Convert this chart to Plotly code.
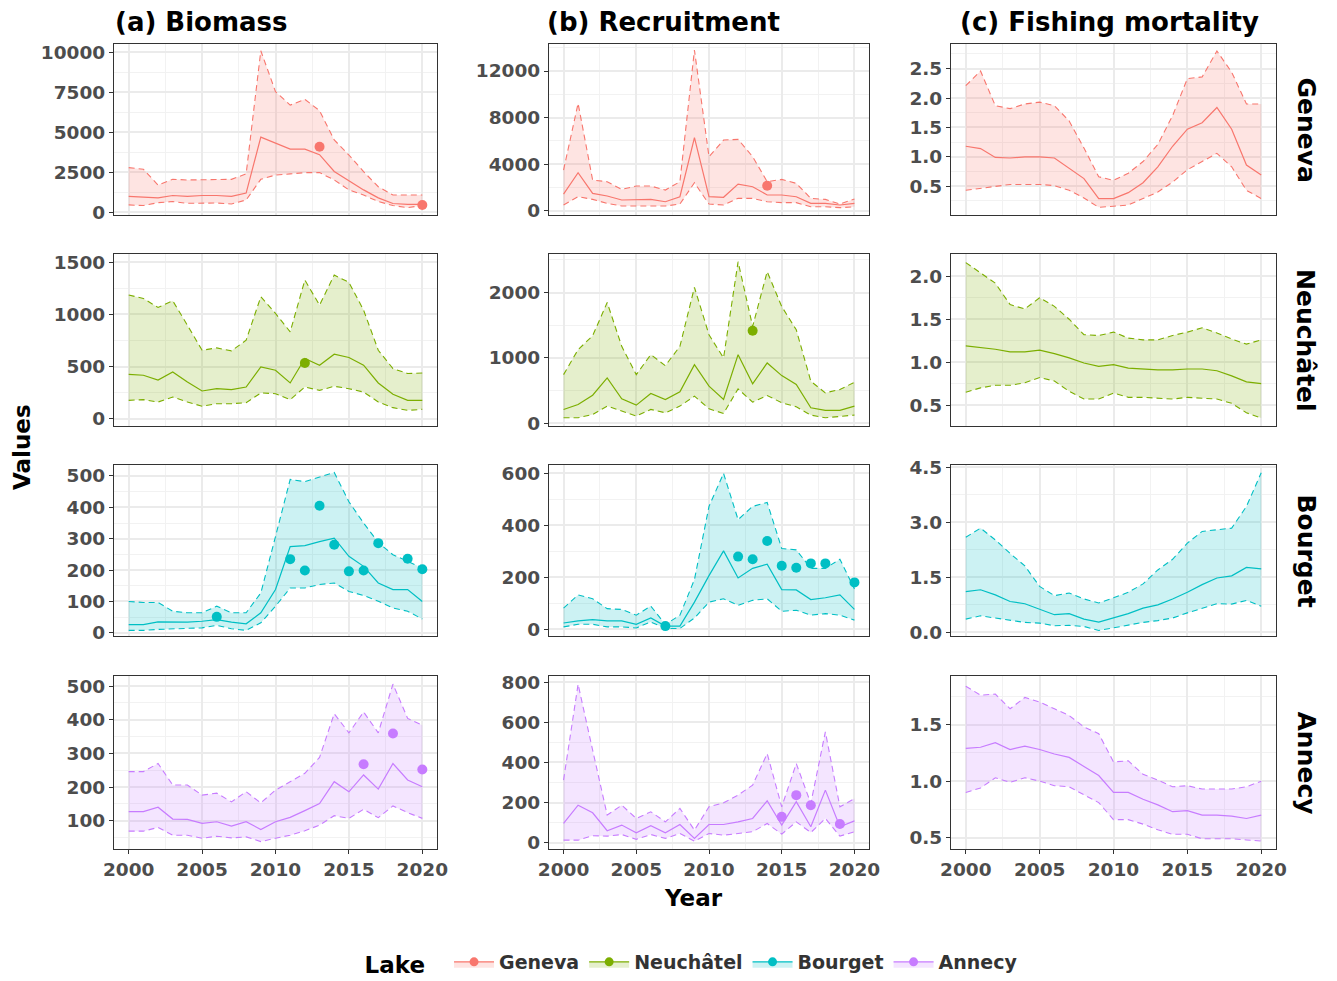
import plotly.graph_objects as go
from plotly.subplots import make_subplots

years = list(range(2000, 2021))
lakes = ["Geneva", "Neuchâtel", "Bourget", "Annecy"]
colors = ["#F8766D", "#7CAE00", "#00BFC4", "#C77CFF"]
fills = ["rgba(248,118,109,0.2)", "rgba(124,174,0,0.2)", "rgba(0,191,196,0.2)", "rgba(199,124,255,0.2)"]
col_titles = ["(a) Biomass", "(b) Recruitment", "(c) Fishing mortality"]

# ---------------- Biomass ----------------
geneva_bio_med = [1000, 950, 900, 1050, 1000, 1050, 1050, 1000, 1200, 4700, 4300, 3950, 3950, 3600, 2550, 1950, 1400, 900, 550, 500, 500]
geneva_bio_lo = [460, 420, 600, 670, 560, 580, 580, 520, 770, 2060, 2330, 2400, 2480, 2480, 2020, 1400, 1080, 670, 420, 290, 420]
geneva_bio_hi = [2790, 2690, 1700, 2060, 2020, 2020, 2060, 2060, 2400, 10100, 7540, 6700, 7060, 6350, 4520, 3580, 2540, 1600, 1080, 1080, 1080]
geneva_bio_obs_years = [2013, 2020]
geneva_bio_obs = [4100, 450]

neuch_bio_med = [426, 417, 370, 449, 353, 266, 288, 279, 304, 497, 465, 343, 577, 513, 619, 587, 513, 343, 234, 176, 176]
neuch_bio_lo = [176, 183, 160, 208, 160, 119, 144, 144, 154, 247, 240, 183, 304, 272, 311, 288, 256, 160, 106, 80, 90]
neuch_bio_hi = [1186, 1154, 1067, 1131, 897, 657, 679, 651, 753, 1170, 1010, 833, 1330, 1090, 1378, 1308, 1042, 657, 481, 433, 439]
neuch_bio_obs_years = [2012]
neuch_bio_obs = [535]

bourget_bio_med = [26, 26, 35, 34, 34, 37, 42, 34, 29, 64, 138, 275, 278, 291, 302, 244, 212, 159, 138, 138, 100]
bourget_bio_lo = [8, 8, 11, 13, 13, 16, 24, 13, 8, 32, 85, 143, 143, 154, 159, 132, 119, 101, 79, 69, 44]
bourget_bio_hi = [100, 97, 97, 69, 64, 64, 85, 64, 64, 127, 307, 489, 482, 496, 511, 418, 350, 288, 249, 228, 207]
bourget_bio_obs_years = [2006, 2011, 2012, 2013, 2014, 2015, 2016, 2017, 2019, 2020]
bourget_bio_obs = [51, 235, 199, 405, 281, 196, 199, 286, 236, 203]

annecy_bio_med = [127, 127, 140, 105, 104, 92, 97, 84, 97, 74, 97, 110, 130, 151, 216, 186, 236, 194, 270, 221, 201]
annecy_bio_lo = [69, 69, 80, 57, 57, 48, 54, 49, 52, 38, 48, 57, 70, 87, 115, 107, 134, 109, 144, 124, 107]
annecy_bio_hi = [246, 246, 270, 206, 206, 176, 182, 156, 186, 153, 191, 216, 241, 288, 418, 361, 423, 361, 506, 404, 384]
annecy_bio_obs_years = [2016, 2018, 2020]
annecy_bio_obs = [268, 359, 252]

# ---------------- Recruitment ----------------
geneva_rec_med = [1430, 3260, 1490, 1260, 920, 970, 970, 770, 1200, 6270, 1200, 1150, 2290, 2060, 1350, 1350, 1200, 630, 630, 490, 630]
geneva_rec_lo = [490, 1200, 970, 630, 400, 400, 400, 400, 570, 2400, 570, 490, 1060, 1060, 770, 690, 690, 340, 340, 260, 340]
geneva_rec_hi = [3490, 9220, 2630, 2490, 1830, 2120, 2120, 1770, 2490, 13800, 4640, 6070, 6130, 4640, 2490, 2690, 2350, 1060, 970, 570, 1000]
geneva_rec_obs_years = [2014]
geneva_rec_obs = [2150]

neuch_rec_med = [213, 289, 431, 695, 376, 279, 457, 365, 482, 898, 569, 365, 1051, 604, 924, 731, 594, 239, 198, 198, 264]
neuch_rec_lo = [86, 86, 137, 264, 188, 112, 213, 162, 264, 416, 223, 152, 528, 325, 426, 315, 254, 127, 86, 112, 127]
neuch_rec_hi = [746, 1127, 1340, 1848, 1178, 746, 1051, 883, 1178, 2081, 1355, 1000, 2472, 1482, 2320, 1787, 1431, 645, 467, 518, 629]
neuch_rec_obs_years = [2013]
neuch_rec_obs = [1416]

bourget_rec_med = [25, 33, 38, 33, 33, 20, 44, 13, 13, 105, 207, 302, 198, 235, 251, 153, 152, 115, 122, 133, 77]
bourget_rec_lo = [10, 20, 20, 10, 10, 6, 29, 4, 4, 44, 105, 118, 93, 112, 118, 70, 74, 55, 61, 55, 36]
bourget_rec_hi = [82, 133, 118, 80, 77, 55, 90, 19, 55, 192, 473, 600, 422, 473, 488, 311, 306, 235, 235, 270, 156]
bourget_rec_obs_years = [2007, 2012, 2013, 2014, 2015, 2016, 2017, 2018, 2020]
bourget_rec_obs = [13, 280, 270, 340, 245, 237, 254, 254, 181]

annecy_rec_med = [96, 187, 149, 60, 88, 50, 85, 50, 91, 22, 91, 91, 104, 121, 209, 88, 204, 80, 262, 80, 109]
annecy_rec_lo = [13, 13, 35, 33, 41, 17, 41, 22, 46, 8, 46, 38, 46, 55, 96, 43, 104, 51, 121, 33, 55]
annecy_rec_hi = [312, 789, 461, 138, 187, 121, 154, 104, 171, 63, 179, 199, 237, 287, 444, 179, 394, 196, 552, 179, 220]
annecy_rec_obs_years = [2015, 2016, 2017, 2019]
annecy_rec_obs = [129, 237, 187, 93]

# ---------------- Fishing mortality ----------------
geneva_f_med = [1.18, 1.14, 0.99, 0.98, 1.00, 1.00, 0.98, 0.80, 0.63, 0.29, 0.29, 0.39, 0.56, 0.83, 1.18, 1.47, 1.58, 1.84, 1.47, 0.86, 0.69]
geneva_f_lo = [0.43, 0.46, 0.49, 0.53, 0.53, 0.53, 0.51, 0.43, 0.30, 0.14, 0.16, 0.18, 0.29, 0.40, 0.57, 0.78, 0.92, 1.06, 0.83, 0.43, 0.29]
geneva_f_hi = [2.21, 2.46, 1.87, 1.82, 1.90, 1.93, 1.87, 1.61, 1.15, 0.66, 0.60, 0.72, 0.92, 1.21, 1.70, 2.33, 2.36, 2.80, 2.44, 1.90, 1.90]

neuch_f_med = [1.19, 1.17, 1.15, 1.12, 1.12, 1.14, 1.10, 1.05, 0.99, 0.95, 0.97, 0.93, 0.92, 0.91, 0.91, 0.92, 0.92, 0.90, 0.84, 0.77, 0.75]
neuch_f_lo = [0.65, 0.70, 0.73, 0.73, 0.76, 0.82, 0.78, 0.66, 0.57, 0.57, 0.64, 0.59, 0.59, 0.58, 0.57, 0.59, 0.58, 0.57, 0.52, 0.41, 0.35]
neuch_f_hi = [2.16, 2.04, 1.92, 1.67, 1.62, 1.75, 1.65, 1.50, 1.32, 1.31, 1.35, 1.28, 1.26, 1.26, 1.31, 1.35, 1.40, 1.34, 1.27, 1.21, 1.26]

bourget_f_med = [1.11, 1.16, 1.02, 0.84, 0.78, 0.62, 0.48, 0.51, 0.36, 0.28, 0.39, 0.51, 0.66, 0.75, 0.91, 1.09, 1.30, 1.48, 1.54, 1.77, 1.73]
bourget_f_lo = [0.36, 0.45, 0.39, 0.33, 0.27, 0.25, 0.18, 0.19, 0.16, 0.05, 0.12, 0.21, 0.27, 0.32, 0.39, 0.53, 0.66, 0.78, 0.77, 0.87, 0.71]
bourget_f_hi = [2.59, 2.84, 2.52, 2.15, 1.81, 1.25, 1.00, 1.07, 0.91, 0.80, 0.94, 1.09, 1.32, 1.70, 1.99, 2.43, 2.75, 2.79, 2.84, 3.43, 4.35]

annecy_f_med = [1.29, 1.30, 1.34, 1.28, 1.31, 1.28, 1.24, 1.21, 1.13, 1.05, 0.90, 0.90, 0.84, 0.79, 0.73, 0.74, 0.70, 0.70, 0.69, 0.67, 0.70]
annecy_f_lo = [0.90, 0.94, 1.03, 0.99, 1.03, 1.00, 0.96, 0.95, 0.88, 0.81, 0.66, 0.66, 0.62, 0.57, 0.53, 0.53, 0.49, 0.49, 0.49, 0.48, 0.47]
annecy_f_hi = [1.84, 1.76, 1.77, 1.64, 1.74, 1.70, 1.64, 1.58, 1.48, 1.42, 1.17, 1.18, 1.06, 1.01, 0.95, 0.96, 0.93, 0.93, 0.93, 0.95, 1.00]

# panel table: rows = lakes, cols = metrics
panels = [
    [(geneva_bio_med, geneva_bio_lo, geneva_bio_hi, geneva_bio_obs_years, geneva_bio_obs),
     (geneva_rec_med, geneva_rec_lo, geneva_rec_hi, geneva_rec_obs_years, geneva_rec_obs),
     (geneva_f_med, geneva_f_lo, geneva_f_hi, [], [])],
    [(neuch_bio_med, neuch_bio_lo, neuch_bio_hi, neuch_bio_obs_years, neuch_bio_obs),
     (neuch_rec_med, neuch_rec_lo, neuch_rec_hi, neuch_rec_obs_years, neuch_rec_obs),
     (neuch_f_med, neuch_f_lo, neuch_f_hi, [], [])],
    [(bourget_bio_med, bourget_bio_lo, bourget_bio_hi, bourget_bio_obs_years, bourget_bio_obs),
     (bourget_rec_med, bourget_rec_lo, bourget_rec_hi, bourget_rec_obs_years, bourget_rec_obs),
     (bourget_f_med, bourget_f_lo, bourget_f_hi, [], [])],
    [(annecy_bio_med, annecy_bio_lo, annecy_bio_hi, annecy_bio_obs_years, annecy_bio_obs),
     (annecy_rec_med, annecy_rec_lo, annecy_rec_hi, annecy_rec_obs_years, annecy_rec_obs),
     (annecy_f_med, annecy_f_lo, annecy_f_hi, [], [])],
]
y_dticks = [[2500, 4000, 0.5], [500, 1000, 0.5], [100, 200, 1.5], [100, 200, 0.5]]
y_ranges = [
    [[-170, 10520], [-370, 14320], [0.01, 2.92]],
    [[-70, 1580], [-40, 2590], [0.256, 2.26]],
    [[-10, 535], [-25, 632], [-0.1, 4.56]],
    [[16, 530], [-31, 830], [0.40, 1.93]],
]

W, H = 1337, 981
col_px = [(114, 437), (549, 869), (951, 1276)]
row_px = [(44, 215), (254, 426), (465, 636), (676, 849)]

FONT = "DejaVu Sans"
TICKFONT = dict(family=FONT, size=18.5, color="#4D4D4D", weight="bold")
fig = make_subplots(rows=4, cols=3)

for r in range(4):
    for c in range(3):
        med, lo, hi, oy, ov = panels[r][c]
        color, fillc = colors[r], fills[r]
        fig.add_trace(go.Scatter(x=years, y=hi, mode="lines", line=dict(color=color, width=1.1, dash="6px,4px"),
                                 showlegend=False, hoverinfo="skip"), row=r + 1, col=c + 1)
        fig.add_trace(go.Scatter(x=years, y=lo, mode="lines", fill="tonexty", fillcolor=fillc,
                                 line=dict(color=color, width=1.1, dash="6px,4px"),
                                 showlegend=False, hoverinfo="skip"), row=r + 1, col=c + 1)
        fig.add_trace(go.Scatter(x=years, y=med, mode="lines", line=dict(color=color, width=1.2),
                                 showlegend=False), row=r + 1, col=c + 1)
        if oy:
            fig.add_trace(go.Scatter(x=oy, y=ov, mode="markers", marker=dict(color=color, size=10),
                                     showlegend=False), row=r + 1, col=c + 1)
        dt = y_dticks[r][c]
        is_f = c == 2
        fig.update_yaxes(row=r + 1, col=c + 1,
                         domain=[1 - row_px[r][1] / H, 1 - row_px[r][0] / H],
                         range=y_ranges[r][c], tick0=0, dtick=dt, automargin=False,
                         tickformat=".1f" if is_f else "d",
                         showgrid=True, gridcolor="#EBEBEB", gridwidth=1.5,
                         minor=dict(dtick=dt / 2, tick0=0, showgrid=True, gridcolor="#F2F2F2", gridwidth=1, ticks=""),
                         showline=True, mirror=True, linecolor="#333333", linewidth=1.2,
                         ticks="outside", ticklen=4, tickcolor="#333333", tickwidth=1,
                         tickfont=TICKFONT, zeroline=False)
        fig.update_xaxes(row=r + 1, col=c + 1,
                         domain=[col_px[c][0] / W, col_px[c][1] / W], automargin=False,
                         range=[1999, 2021], tick0=2000, dtick=5,
                         showgrid=True, gridcolor="#EBEBEB", gridwidth=1.5,
                         minor=dict(dtick=2.5, tick0=2000, showgrid=True, gridcolor="#F2F2F2", gridwidth=1, ticks=""),
                         showline=True, mirror=True, linecolor="#333333", linewidth=1.2,
                         ticks="outside" if r == 3 else "", ticklen=4, tickcolor="#333333",
                         showticklabels=(r == 3),
                         tickfont=TICKFONT, zeroline=False)

# legend-only entries
for i, lake in enumerate(lakes):
    fig.add_trace(go.Scatter(x=[None], y=[None], mode="lines+markers", name=lake,
                             line=dict(color=colors[i], width=1.2),
                             marker=dict(color=colors[i], size=9),
                             fill="toself", fillcolor=fills[i]), row=1, col=1)

annotations = []
title_x = [113, 545, 958]
for c in range(3):
    annotations.append(dict(text=col_titles[c], x=title_x[c] / W, y=1 - 22 / H, xref="paper", yref="paper",
                            xanchor="left", yanchor="middle", showarrow=False,
                            font=dict(family=FONT, size=26, color="black", weight="bold")))
for r in range(4):
    annotations.append(dict(text=lakes[r], x=1306 / W, y=1 - (row_px[r][0] + row_px[r][1]) / 2 / H,
                            xref="paper", yref="paper", xanchor="center", yanchor="middle",
                            textangle=90, showarrow=False,
                            font=dict(family=FONT, size=25, color="black", weight="bold")))
annotations.append(dict(text="Values", x=22 / W, y=1 - 447 / H, xref="paper", yref="paper",
                        xanchor="center", yanchor="middle", textangle=-90, showarrow=False,
                        font=dict(family=FONT, size=23, color="black", weight="bold")))
annotations.append(dict(text="Year", x=693 / W, y=1 - 898 / H, xref="paper", yref="paper",
                        xanchor="center", yanchor="middle", showarrow=False,
                        font=dict(family=FONT, size=23, color="black", weight="bold")))

fig.update_layout(
    width=W, height=H,
    margin=dict(l=0, r=0, t=0, b=0, autoexpand=False),
    paper_bgcolor="white", plot_bgcolor="white",
    annotations=annotations,
    showlegend=True,
    legend=dict(orientation="h", x=0.518, xanchor="center", y=1 - 963 / H, yanchor="middle",
                traceorder="normal",
                title=dict(text="Lake  ", font=dict(family=FONT, size=23, color="black", weight="bold")),
                font=dict(family=FONT, size=19, color="#333333", weight="bold"),
                itemwidth=40),
)

fig.write_html("out.html", config={"displayModeBar": False},
               post_script="document.body.style.margin='0';document.body.style.overflow='hidden';")
